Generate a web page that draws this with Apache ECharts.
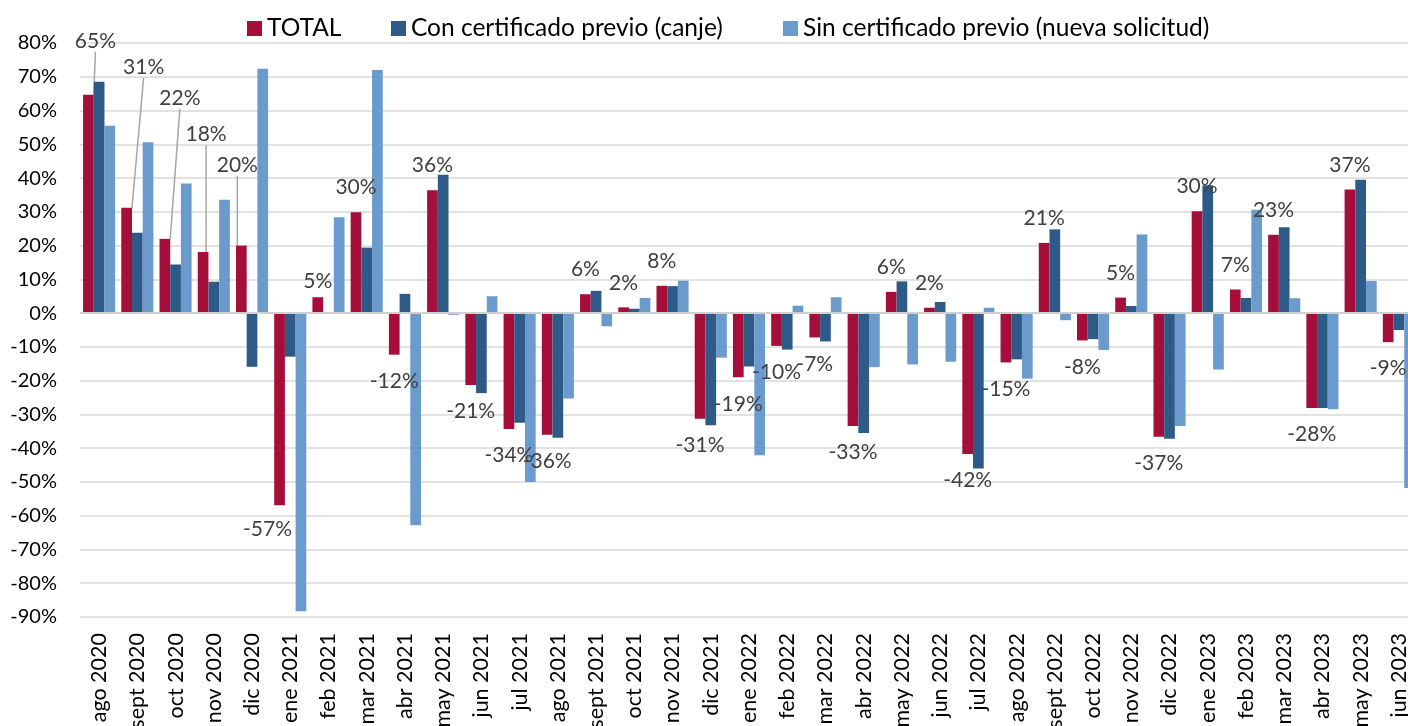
<!DOCTYPE html>
<html>
<head>
    <meta charset="utf-8">
    <title>Variación interanual de solicitudes</title>
    <!-- ECharts desde CDN -->
    <script type="text/javascript" src="https://cdn.jsdelivr.net/npm/echarts@6/dist/echarts.min.js"></script>
    <style>
        html, body { margin: 0; padding: 0; background: #fff; }
    </style>
</head>
<body>
    <div id="main" style="width:1408px; height:726px;"></div>
    <script type="text/javascript">

    // meses (eje x)
    var categories = ['ago 2020','sept 2020','oct 2020','nov 2020','dic 2020','ene 2021','feb 2021','mar 2021','abr 2021','may 2021',
        'jun 2021','jul 2021','ago 2021','sept 2021','oct 2021','nov 2021','dic 2021','ene 2022','feb 2022','mar 2022',
        'abr 2022','may 2022','jun 2022','jul 2022','ago 2022','sept 2022','oct 2022','nov 2022','dic 2022','ene 2023',
        'feb 2023','mar 2023','abr 2023','may 2023','jun 2023'];

    // variación en %
    var total = [64.7, 31.2, 22.0, 18.1, 20.0, -56.9, 4.7, 29.9, -12.3, 36.4,
        -21.3, -34.3, -36.0, 5.6, 1.7, 8.1, -31.3, -19.0, -9.7, -7.2,
        -33.4, 6.3, 1.6, -41.7, -14.6, 20.8, -8.1, 4.6, -36.6, 30.2,
        7.0, 23.2, -28.1, 36.6, -8.6];
    var conCertificado = [68.5, 23.8, 14.4, 9.3, -15.9, -12.9, 0, 19.4, 5.7, 41.0,
        -23.7, -32.5, -36.9, 6.6, 1.3, 8.0, -33.2, -15.8, -10.8, -8.4,
        -35.5, 9.4, 3.3, -46.0, -13.7, 24.8, -7.7, 2.1, -37.2, 37.9,
        4.5, 25.4, -28.1, 39.5, -5.0];
    var sinCertificado = [55.5, 50.6, 38.4, 33.6, 72.4, -88.3, 28.4, 72.0, -62.8, -0.5,
        5.0, -50.0, -25.3, -3.9, 4.5, 9.6, -13.2, -42.1, 2.2, 4.7,
        -16.0, -15.2, -14.4, 1.6, -19.4, -2.1, -10.9, 23.3, -33.4, -16.7,
        30.6, 4.4, -28.5, 9.5, -51.8];

    var seriesNames = ['TOTAL', 'Con certificado previo (canje)', 'Sin certificado previo (nueva solicitud)'];

    // etiquetas movidas a mano (como en el Excel original), en px
    var labelShift = {0: [7, -29], 1: [17, -116], 2: [15, -116], 3: [3, -93], 4: [-4, -56], 5: [-12, -3], 6: [0, 8]};
    var withLeader = [0, 1, 2, 3, 4];

    var FONT = 'Lato';
    var myChart = echarts.init(document.getElementById('main'));

    var totalData = total.map(function (v, i) {
        return {
            value: v,
            label: {position: v < 0 ? 'bottom' : 'top', distance: v < 0 ? 16 : 14},
            labelLine: {show: withLeader.indexOf(i) >= 0}
        };
    });

    // una leyenda por serie para colocar cada entrada como en el original
    var legendLeft = [242, 386, 778];
    var legends = seriesNames.map(function (name, i) {
        return {
            top: 11,
            left: legendLeft[i],
            icon: 'rect',
            itemWidth: 15,
            itemHeight: 15,
            textStyle: {fontFamily: FONT, fontSize: 24.5, color: '#000'},
            data: [name]
        };
    });

    var option = {
        animation: false,
        textStyle: {fontFamily: FONT},
        legend: legends,
        grid: {
            left: 80,
            top: 43,
            width: 1338,
            height: 574,
            outerBoundsMode: 'none'   // el original queda recortado a la derecha y abajo
        },
        xAxis: {
            type: 'category',
            data: categories,
            axisLine: {show: false, onZero: false},
            axisTick: {show: false},
            axisLabel: {
                interval: 0,
                rotate: 90,
                margin: 16,
                fontFamily: FONT,
                fontSize: 21.5,
                color: '#000'
            }
        },
        yAxis: {
            type: 'value',
            min: -90,
            max: 80,
            interval: 10,
            axisLine: {show: false},
            axisTick: {show: false},
            axisLabel: {
                formatter: '{value}%',
                margin: 23,
                fontFamily: FONT,
                fontSize: 20,
                color: '#000'
            },
            splitLine: {lineStyle: {color: '#d9d9d9', width: 1.5}}
        },
        series: [
            {
                name: seriesNames[0],
                type: 'bar',
                barGap: '0%',
                barCategoryGap: '16%',
                itemStyle: {color: '#A50D3A'},
                label: {
                    show: true,
                    fontFamily: FONT,
                    fontSize: 21,
                    color: '#404040',
                    formatter: function (p) { return Math.round(p.value) + '%'; }
                },
                labelLine: {show: false, lineStyle: {color: '#a6a6a6', width: 1.5}},
                labelLayout: function (params) {
                    var s = labelShift[params.dataIndex];
                    if (!s) return {};
                    return {dx: s[0], dy: s[1]};
                },
                markLine: {
                    silent: true,
                    symbol: 'none',
                    label: {show: false},
                    lineStyle: {color: '#d0d0d0', width: 2, type: 'solid'},
                    data: [{yAxis: 0}]
                },
                data: totalData
            },
            {
                name: seriesNames[1],
                type: 'bar',
                barGap: '0%',
                barCategoryGap: '16%',
                itemStyle: {color: '#2E5A87'},
                data: conCertificado
            },
            {
                name: seriesNames[2],
                type: 'bar',
                barGap: '0%',
                barCategoryGap: '16%',
                itemStyle: {color: '#6B9BCD'},
                data: sinCertificado
            }
        ]
    };

    myChart.setOption(option);
    </script>
</body>
</html>
